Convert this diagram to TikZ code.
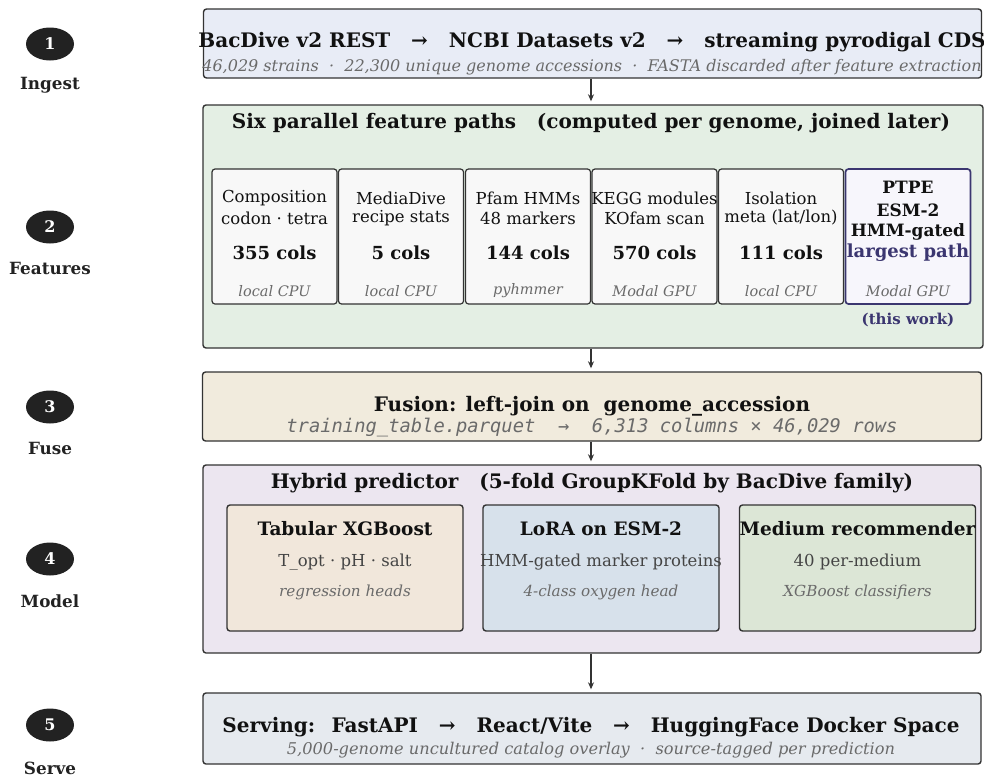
\documentclass[tikz,border=0pt]{standalone}
\usepackage{fontspec}
\setmainfont{DejaVu Serif}
\setmonofont{DejaVu Sans Mono}[ItalicFont={DejaVu Sans Mono Oblique}]
\usetikzlibrary{shapes.geometric,arrows.meta}

\definecolor{edge}{HTML}{333333}
\definecolor{badgeblack}{HTML}{222222}
\definecolor{ink}{HTML}{111111}
\definecolor{midgray}{HTML}{444444}
\definecolor{capgray}{HTML}{6A6A6A}
\definecolor{ptpe}{HTML}{3B3670}
\definecolor{ingestfill}{HTML}{E8ECF6}
\definecolor{featfill}{HTML}{E4EFE4}
\definecolor{fusefill}{HTML}{F1EBDD}
\definecolor{modelfill}{HTML}{ECE6F0}
\definecolor{servefill}{HTML}{E6EAEF}
\definecolor{cellfill}{HTML}{F8F8F8}
\definecolor{thisfill}{HTML}{F7F6FC}
\definecolor{tabfill}{HTML}{F1E7DB}
\definecolor{lorafill}{HTML}{D7E1EB}
\definecolor{medfill}{HTML}{DCE6D6}

\tikzset{
  stage/.style={draw=edge, line width=1.4pt, rounded corners=3pt, inner sep=0pt},
  cell/.style={draw=edge, line width=1.2pt, rounded corners=3pt, fill=cellfill,
    minimum width=125pt, minimum height=135pt, inner sep=0pt},
  head/.style={draw=edge, line width=1.4pt, rounded corners=3pt,
    minimum width=236pt, minimum height=126pt, inner sep=0pt},
  badge/.style={ellipse, fill=badgeblack, text=white, minimum width=48pt,
    minimum height=33pt, inner sep=0pt, font=\fontsize{16}{16}\selectfont\bfseries},
  stagelabel/.style={text=badgeblack, font=\fontsize{16.8}{17}\selectfont\bfseries},
  headtext/.style={text=ink, inner sep=0pt, font=\fontsize{20}{21}\selectfont\bfseries},
  subtext/.style={text=capgray, inner sep=0pt, font=\fontsize{16}{17}\selectfont\itshape},
  celltext/.style={text=ink, inner sep=0pt, font=\fontsize{16.5}{17}\selectfont},
  colstext/.style={text=ink, inner sep=0pt, font=\fontsize{18}{18}\selectfont\bfseries},
  runtext/.style={text=capgray, inner sep=0pt, font=\fontsize{14.5}{15}\selectfont\itshape},
  flow/.style={-{Stealth[length=7pt,width=6pt]}, line width=1.3pt, draw=edge, shorten >=3pt},
}

\begin{document}
\begin{tikzpicture}[x=1pt,y=-1pt]
\useasboundingbox (0,0) rectangle (984,779);

% stage badges on the left
\foreach \n/\y/\lab/\ly in {1/44/Ingest/85, 2/227/Features/268, 3/407/Fuse/448,
    4/559/Model/601, 5/725/Serve/768}{
  \node[badge] (badge\n) at (50,\y) {\n};
  \node[stagelabel] (stage\n) at (50,\ly) {\lab};
}

% 1 ingest
\node[stage, fill=ingestfill, minimum width=778pt, minimum height=69pt] (ingest) at (592.5,43.5) {};
\node[headtext] (ingesthead) at (592,42)
  {BacDive v2 REST \ \ → \ \ NCBI Datasets v2 \ \ → \ \ streaming pyrodigal CDS};
\node[subtext] (ingestsub) at (592,67)
  {46,029 strains \ · \ 22,300 unique genome accessions \ · \ FASTA discarded after feature extraction};

% 2 features
\node[stage, fill=featfill, minimum width=780pt, minimum height=243pt] (features) at (593,226.5) {};
\node[headtext] (feathead) at (591,123)
  {Six parallel feature paths \ \ (computed per genome, joined later)};
\foreach \i/\x/\la/\lb/\n/\run in {1/274.5/Composition/codon · tetra/355/local CPU,
    2/401/MediaDive/recipe stats/5/local CPU, 3/528/Pfam HMMs/48 markers/144/pyhmmer,
    4/654.5/KEGG modules/KOfam scan/570/Modal GPU, 5/781/Isolation/{meta (lat/lon)}/111/local CPU}{
  \node[cell] (cell\i) at (\x,236.5) {};
  \node[celltext] (cell\i a) at (\x,198) {\la};
  \node[celltext] (cell\i b) at (\x,218) {\lb};
  \node[colstext] (cell\i c) at (\x,253) {\n\ cols};
  \node[runtext] (cell\i d) at (\x,291) {\run};
}
\node[cell, draw=ptpe, fill=thisfill, line width=1.7pt] (cell6) at (908,236.5) {};
\node[colstext, font=\fontsize{17}{17}\selectfont\bfseries] (cell6a) at (908,187) {PTPE};
\node[colstext, font=\fontsize{17}{17}\selectfont\bfseries] (cell6b) at (908,210) {ESM-2};
\node[colstext, font=\fontsize{17}{17}\selectfont\bfseries] (cell6c) at (908,232) {HMM-gated};
\node[colstext, text=ptpe] (cell6d) at (908,253) {largest path};
\node[runtext] (cell6e) at (908,291) {Modal GPU};
\node[colstext, text=ptpe, font=\fontsize{15}{15}\selectfont\bfseries] (thiswork) at (908,320) {(this work)};

% 3 fuse
\node[stage, fill=fusefill, minimum width=779pt, minimum height=69pt] (fuse) at (592,406.5) {};
\node[headtext] (fusehead) at (592,406) {Fusion: left-join on \ genome\_accession};
\node[subtext, font=\fontsize{18.8}{19}\ttfamily\itshape] (fusesub) at (592,428)
  {training\_table.parquet \ → \ 6,313 columns × 46,029 rows};

% 4 model
\node[stage, fill=modelfill, minimum width=778pt, minimum height=188pt] (model) at (592,559) {};
\node[headtext] (modelhead) at (592,483)
  {Hybrid predictor \ \ (5-fold GroupKFold by BacDive family)};
\foreach \k/\x/\col/\ta/\tb/\tc in {tab/345/tabfill/Tabular XGBoost/T\_opt · pH · salt/regression heads,
    lora/601/lorafill/LoRA on ESM-2/HMM-gated marker proteins/4-class oxygen head,
    med/857.5/medfill/Medium recommender/40 per-medium/XGBoost classifiers}{
  \node[head, fill=\col] (\k) at (\x,568) {};
  \node[colstext, font=\fontsize{18.5}{19}\selectfont\bfseries] (\k a) at (\x,529) {\ta};
  \node[celltext, text=midgray] (\k b) at (\x,562) {\tb};
  \node[runtext, font=\fontsize{15.2}{16}\selectfont\itshape] (\k c) at (\x,592) {\tc};
}

% 5 serve
\node[stage, fill=servefill, minimum width=778pt, minimum height=71pt] (serve) at (592,728.5) {};
\node[headtext] (servehead) at (591,727)
  {Serving: \ FastAPI \ \ → \ \ React/Vite \ \ → \ \ HuggingFace Docker Space};
\node[subtext, font=\fontsize{16.2}{17}\selectfont\itshape] (servesub) at (591,750)
  {5,000-genome uncultured catalog overlay \ · \ source-tagged per prediction};

% flow between stages
\draw[flow] (ingest.south -| 591,0) -- (features.north -| 591,0);
\draw[flow] (features.south -| 591,0) -- (fuse.north -| 591,0);
\draw[flow] (fuse.south -| 591,0) -- (model.north -| 591,0);
\draw[flow] (model.south -| 591,0) -- (serve.north -| 591,0);
\end{tikzpicture}
\end{document}
